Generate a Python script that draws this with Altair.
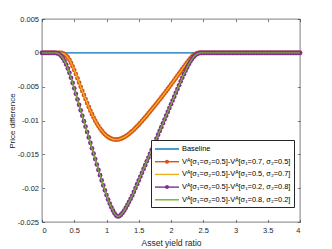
import altair as alt
import pandas as pd

# ---------------- data ----------------
X_STEP = 0.025
N_PTS = 161
x_vals = [round(i * X_STEP, 3) for i in range(N_PTS)]

L_BASE = "Baseline"
L_O = "Vᴬ[σ₁=σ₂=0.5]-Vᴬ[σ₁=0.7, σ₂=0.5]"
L_Y = "Vᴬ[σ₁=σ₂=0.5]-Vᴬ[σ₁=0.5, σ₂=0.7]"
L_P = "Vᴬ[σ₁=σ₂=0.5]-Vᴬ[σ₁=0.2, σ₂=0.8]"
L_G = "Vᴬ[σ₁=σ₂=0.5]-Vᴬ[σ₁=0.8, σ₂=0.2]"
SERIES = [L_BASE, L_O, L_Y, L_P, L_G]

baseline = [0.0] * N_PTS

# orange curve, x = 0.300 ... 2.425
orange_core = [
    -0.00002, -0.00008, -0.00020, -0.00040, -0.00068, -0.00104, -0.00148, -0.00198,
    -0.00254, -0.00314, -0.00376, -0.00439, -0.00501, -0.00563, -0.00624, -0.00684,
    -0.00743, -0.00800, -0.00855, -0.00907, -0.00956, -0.01002, -0.01044, -0.01083,
    -0.01118, -0.01150, -0.01178, -0.01203, -0.01225, -0.01243, -0.01258, -0.01269,
    -0.01277, -0.01281, -0.01282, -0.01280, -0.01276, -0.01268, -0.01258, -0.01245,
    -0.01230, -0.01214, -0.01196, -0.01176, -0.01155, -0.01133, -0.01110, -0.01086,
    -0.01061, -0.01035, -0.01008, -0.00981, -0.00953, -0.00925, -0.00896, -0.00867,
    -0.00838, -0.00809, -0.00780, -0.00750, -0.00720, -0.00690, -0.00659, -0.00628,
    -0.00597, -0.00566, -0.00534, -0.00502, -0.00470, -0.00438, -0.00405, -0.00372,
    -0.00339, -0.00306, -0.00273, -0.00240, -0.00207, -0.00175, -0.00143, -0.00112,
    -0.00083, -0.00057, -0.00035, -0.00018, -0.00007, -0.00001,
]
orange = [0.0] * 12 + orange_core + [0.0] * 63
yellow = list(orange)  # drawn exactly over the orange curve

# purple curve, x = 0.225 ... 2.450
purple_core = [
    -0.00003, -0.00010, -0.00025, -0.00048, -0.00080, -0.00122, -0.00172, -0.00230,
    -0.00296, -0.00368, -0.00445, -0.00525, -0.00606, -0.00687, -0.00768, -0.00849,
    -0.00930, -0.01010, -0.01090, -0.01170, -0.01250, -0.01330, -0.01410, -0.01490,
    -0.01570, -0.01650, -0.01730, -0.01808, -0.01885, -0.01960, -0.02032, -0.02102,
    -0.02168, -0.02228, -0.02282, -0.02330, -0.02372, -0.02405, -0.02418, -0.02412,
    -0.02392, -0.02364, -0.02330, -0.02290, -0.02247, -0.02202, -0.02156, -0.02108,
    -0.02054, -0.01998, -0.01941, -0.01885, -0.01829, -0.01773, -0.01716, -0.01660,
    -0.01604, -0.01548, -0.01491, -0.01435, -0.01379, -0.01323, -0.01266, -0.01210,
    -0.01154, -0.01098, -0.01041, -0.00985, -0.00929, -0.00873, -0.00816, -0.00760,
    -0.00704, -0.00648, -0.00591, -0.00535, -0.00479, -0.00423, -0.00368, -0.00315,
    -0.00264, -0.00215, -0.00170, -0.00128, -0.00092, -0.00061, -0.00037, -0.00019,
    -0.00008, -0.00002,
]
purple = [0.0] * 9 + purple_core + [0.0] * 62
green = list(purple)  # drawn exactly over the purple curve

X_TICKS = [0, 0.5, 1, 1.5, 2, 2.5, 3, 3.5, 4]
Y_TICKS = [-0.025, -0.02, -0.015, -0.01, -0.005, 0, 0.005]

# ---------------- styles ----------------
BLUE, ORANGE, YELLOW, PURPLE, GREEN = "#0072BD", "#D95319", "#EDB120", "#7E2F8E", "#77AC30"
COLORS = [BLUE, ORANGE, YELLOW, PURPLE, GREEN]
DOT_FILLS = ["transparent", ORANGE, "transparent", PURPLE, "transparent"]
AX = "#262626"
FONT = "Liberation Sans"
W, H = 258, 203
LW = 1.4
MSIZE = 22
ZW = "\u200b"

rows = []
for name, ys in zip(SERIES, [baseline, orange, yellow, purple, green]):
    for xv, yv in zip(x_vals, ys):
        rows.append({"x": xv, "y": yv, "series": name, "series_dot": name + ZW})
df = pd.DataFrame(rows)

xscale = alt.Scale(domain=[0, 4], nice=False, zero=False)
yscale = alt.Scale(domain=[-0.025, 0.005], nice=False, zero=False)

LINE_PATH = "M-1,0H3.8"
DOT_PATH = "M1,0A0.4,0.4 0 1,1 1.8,0A0.4,0.4 0 1,1 1,0Z"

LEG_X, LEG_Y = 109, 121
leg_common = dict(
    title=None, orient="none", legendX=LEG_X, legendY=LEG_Y,
    symbolSize=100, symbolStrokeWidth=LW,
    labelFont=FONT, labelFontSize=7.4, labelOffset=16, labelLimit=400,
    rowPadding=2.7, padding=3,
)
legend_lines = alt.Legend(symbolType=LINE_PATH, labelColor="#000000",
                          fillColor="white", strokeColor=AX, zindex=1, **leg_common)
legend_dots = alt.Legend(symbolType=DOT_PATH, labelOpacity=0, zindex=2, **leg_common)

color = alt.Color("series:N", scale=alt.Scale(domain=SERIES, range=COLORS), legend=legend_lines)
dot_fill = alt.Fill("series_dot:N",
                    scale=alt.Scale(domain=[s + ZW for s in SERIES], range=DOT_FILLS),
                    legend=legend_dots)

tick_common = dict(labels=False, domain=False, grid=False, ticks=True, tickSize=2.6,
                   tickColor=AX, tickWidth=0.6, title=None)

x_main = alt.Axis(orient="bottom", values=X_TICKS, labelExpr="'' + datum.value", ticks=False,
                  domain=False, grid=False, labelFont=FONT, labelFontSize=7.5, labelColor=AX,
                  labelPadding=4, title="Asset yield ratio", titleFont=FONT, titleFontSize=8.5,
                  titleFontWeight="normal", titleColor=AX, titlePadding=4.5)
y_main = alt.Axis(orient="left", values=Y_TICKS, labelExpr="'' + datum.value", ticks=False,
                  domain=False, grid=False, labelFont=FONT, labelFontSize=7.5, labelColor=AX,
                  labelPadding=3.5, title="Price difference", titleFont=FONT, titleFontSize=8,
                  titleFontWeight="normal", titleColor=AX, titlePadding=1)
x_in_bottom = alt.Axis(orient="top", offset=-H, values=X_TICKS, **tick_common)
x_in_top = alt.Axis(orient="bottom", offset=-H, values=X_TICKS, **tick_common)
y_in_left = alt.Axis(orient="right", offset=-W, values=Y_TICKS, **tick_common)
y_in_right = alt.Axis(orient="left", offset=-W, values=Y_TICKS, **tick_common)

base = alt.Chart(df)


def sel(name):
    return base.transform_filter(alt.datum.series == name)


def enc(xaxis=None, yaxis=None):
    return dict(
        x=alt.X("x:Q", scale=xscale, axis=xaxis),
        y=alt.Y("y:Q", scale=yscale, axis=yaxis),
    )


l_base = sel(L_BASE).mark_line(strokeWidth=LW).encode(color=color, **enc(x_main, y_main))
l_orange = sel(L_O).mark_line(strokeWidth=LW).encode(color=color, **enc(x_in_bottom, y_in_left))
p_orange = sel(L_O).mark_point(filled=True, size=MSIZE, opacity=1, strokeWidth=0).encode(
    fill=dot_fill, **enc(x_in_top, y_in_right))
l_yellow = sel(L_Y).mark_line(strokeWidth=LW).encode(color=color, **enc())
l_purple = sel(L_P).mark_line(strokeWidth=LW).encode(color=color, **enc())
p_purple = sel(L_P).mark_point(filled=True, size=MSIZE, opacity=1, strokeWidth=0).encode(
    fill=dot_fill, **enc())
l_green = sel(L_G).mark_line(strokeWidth=LW).encode(color=color, **enc())

chart = (
    alt.layer(l_base, l_orange, p_orange, l_yellow, l_purple, p_purple, l_green)
    .resolve_axis(x="independent", y="independent")
    .properties(
        width=W,
        height=H,
        padding={"left": 34, "top": 11, "right": 24, "bottom": 27},
        autosize=alt.AutoSizeParams(type="none"),
        background="white",
    )
    .configure_view(stroke=AX, strokeWidth=0.6)
)

chart.save("out.html", embed_options={"renderer": "svg", "actions": False})
